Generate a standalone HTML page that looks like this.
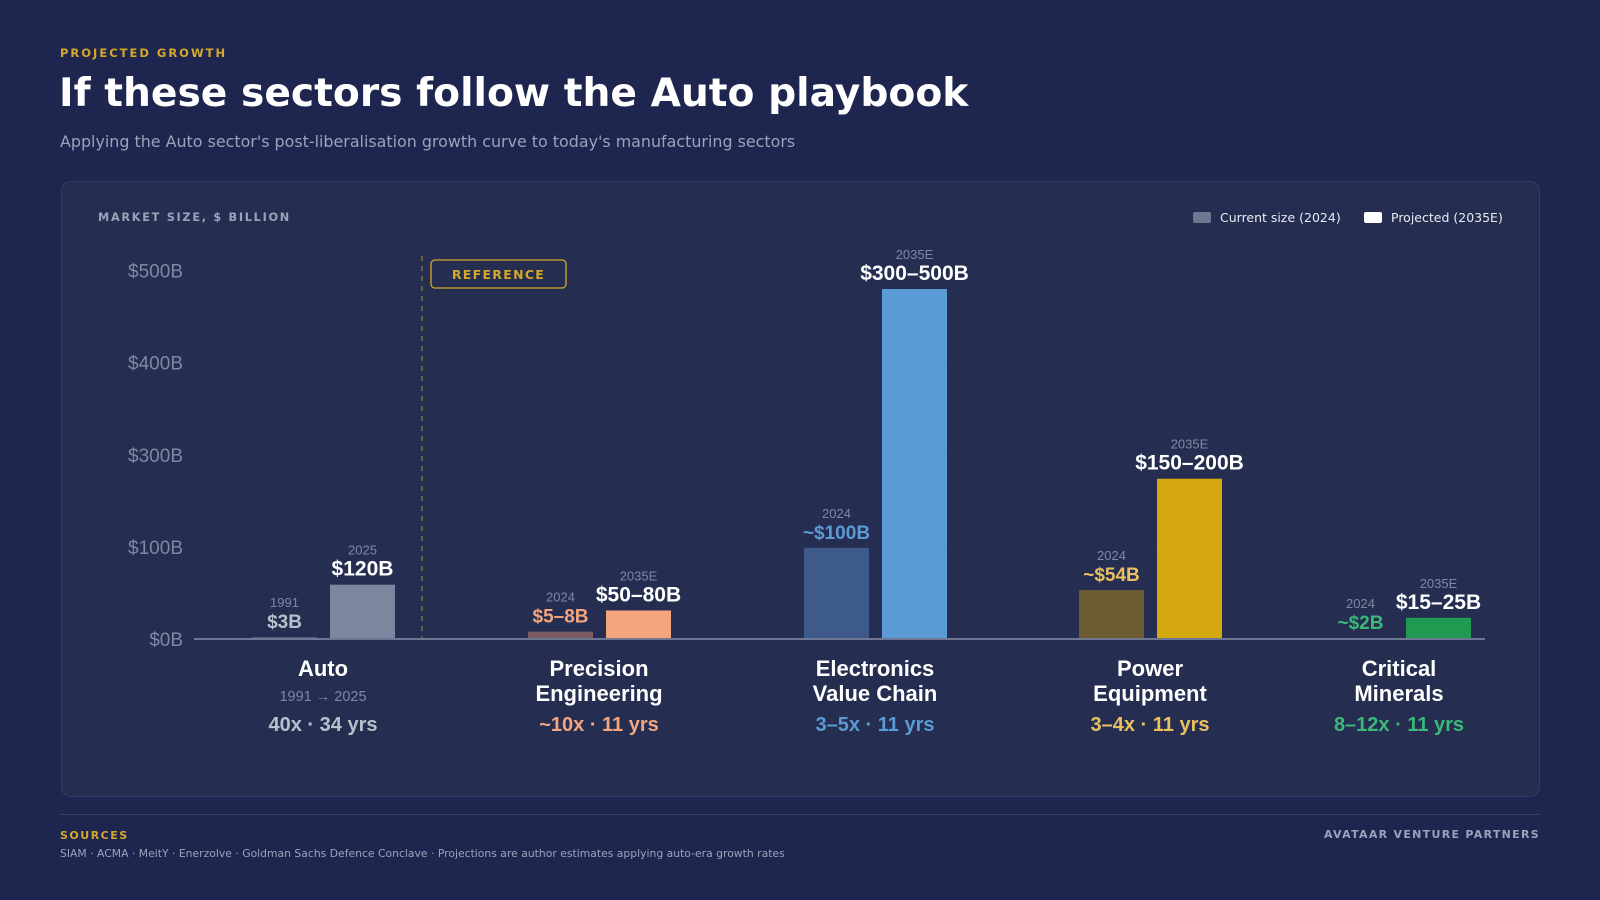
<!DOCTYPE html>
<html><head><meta charset="utf-8"><style>
html,body{margin:0;padding:0;}
body{width:1600px;height:900px;background:#1e2650;position:relative;overflow:hidden;font-family:"DejaVu Sans","Liberation Sans",sans-serif;}
.abs{position:absolute;white-space:nowrap;}
</style></head><body>
<div class="abs" style="left:60px;top:46px;font-size:11.5px;font-weight:bold;letter-spacing:2px;color:#d4a82a;">PROJECTED GROWTH</div>
<div class="abs" style="left:59px;top:71px;font-size:39.2px;font-weight:bold;color:#fff;">If these sectors follow the Auto playbook</div>
<div class="abs" style="left:60px;top:132px;font-size:15.9px;color:#9aa3ba;">Applying the Auto sector's post-liberalisation growth curve to today's manufacturing sectors</div>
<div class="abs" style="left:61px;top:181px;width:1477px;height:614px;background:#252e50;border:1px solid #323c60;border-radius:10px;"></div>
<div class="abs" style="left:98px;top:211px;font-size:11.3px;font-weight:bold;letter-spacing:1.7px;color:#9aa3ba;">MARKET SIZE, $ BILLION</div>
<div class="abs" style="left:1193px;top:210px;font-size:12.5px;color:#e8ebf2;"><span style="display:inline-block;width:18px;height:11px;background:#6e7690;border-radius:2px;vertical-align:-1px;margin-right:9px;"></span>Current size (2024)</div>
<div class="abs" style="left:1364px;top:210px;font-size:12.5px;color:#e8ebf2;"><span style="display:inline-block;width:18px;height:11px;background:#fff;border-radius:2px;vertical-align:-1px;margin-right:9px;"></span>Projected (2035E)</div>
<svg id="chart" width="1600" height="900" style="position:absolute;left:0;top:0;" font-family="'Liberation Sans',Arial,sans-serif"></svg>
<div class="abs" style="left:60px;top:814px;width:1480px;height:1px;background:#38426a;"></div>
<div class="abs" style="left:60px;top:829px;font-size:11px;font-weight:bold;letter-spacing:1.5px;color:#d4a82a;">SOURCES</div>
<div class="abs" style="left:60px;top:847px;font-size:10.8px;color:#9aa3ba;">SIAM · ACMA · MeitY · Enerzolve · Goldman Sachs Defence Conclave · Projections are author estimates applying auto-era growth rates</div>
<div class="abs" style="right:60px;top:828px;font-size:11px;font-weight:bold;letter-spacing:1.3px;color:#9aa3ba;">AVATAAR VENTURE PARTNERS</div>
<script>
const categories=[["Auto"],["Precision","Engineering"],["Electronics","Value Chain"],["Power","Equipment"],["Critical","Minerals"]];
const currentValues=[2,8,99,53,1];
const projectedValues=[59,31,380,174,23];
const currentLabels=["$3B","$5–8B","~$100B","~$54B","~$2B"];
const projectedLabels=["$120B","$50–80B","$300–500B","$150–200B","$15–25B"];
const currentYears=["1991","2024","2024","2024","2024"];
const projectedYears=["2025","2035E","2035E","2035E","2035E"];
const multipliers=["40x · 34 yrs","~10x · 11 yrs","3–5x · 11 yrs","3–4x · 11 yrs","8–12x · 11 yrs"];
const tickValues=[0,100,200,300,400];
const tickLabels=["$0B","$100B","$300B","$400B","$500B"];
const svg=document.getElementById('chart');
const NS='http://www.w3.org/2000/svg';
const baseY=639,pxPer=0.921;
function y(v){return baseY-v*pxPer;}
const centers=[323,599,875,1150,1399];
function x(i){return centers[i];}
const curFill=["#59637e","#7a5c60","#3d5a8a","#6e5c32","#1e6b44"];
const projFill=["#7a879e","#f4a57e","#5b9bd5","#d6a80f","#1f9a50"];
const curText=["#b8c0cc","#f4a57e","#5b9bd5","#e8c060","#3cb878"];
const multText=["#b8c0cc","#f4a57e","#5b9bd5","#e8c060","#3cb878"];
function mk(tag,attrs,txt){const e=document.createElementNS(NS,tag);for(const k in attrs)e.setAttribute(k,attrs[k]);if(txt!=null)e.textContent=txt;svg.appendChild(e);return e;}
tickValues.forEach((v,i)=>{
  const g=mk('line',{x1:194,x2:1485,y1:y(v),y2:y(v),stroke:'#283152','stroke-width':1});
  
  
  const t=mk('text',{x:183,y:y(v)+7,'text-anchor':'end','font-size':19,fill:'#7f88a3'},tickLabels[i]);
  
  
});
const dl=mk('line',{x1:422,x2:422,y1:256,y2:baseY,stroke:'#8a7a3a','stroke-width':1.3,'stroke-dasharray':'5,5'});


const rb=mk('rect',{x:431,y:260,width:135,height:28,rx:4,fill:'none',stroke:'#d4a82a','stroke-width':1.3});


const rt=mk('text',{x:498.5,y:279,'text-anchor':'middle','font-size':12.5,'font-weight':'bold','letter-spacing':1.3,fill:'#d4a82a','font-family':"'DejaVu Sans',sans-serif"},'REFERENCE');


const bw=65;
categories.forEach((c,i)=>{
  const cx=x(i);
  const x1=cx-71,x2=cx+7;
  const cy=y(currentValues[i]),py=y(projectedValues[i]);
  const b1=mk('rect',{x:x1,y:cy,width:bw,height:baseY-cy,fill:curFill[i]});
  
  
  const b2=mk('rect',{x:x2,y:py,width:bw,height:baseY-py,fill:projFill[i]});
  
  
  const v1=mk('text',{x:x1+bw/2,y:cy-9,'text-anchor':'middle','font-size':19,'font-weight':'bold',fill:curText[i]},currentLabels[i]);
  
  
  const y1=mk('text',{x:x1+bw/2,y:cy-30,'text-anchor':'middle','font-size':13,fill:'#7f88a3'},currentYears[i]);
  
  
  const v2=mk('text',{x:x2+bw/2,y:py-9,'text-anchor':'middle','font-size':21,'font-weight':'bold',fill:'#ffffff'},projectedLabels[i]);
  
  
  const y2=mk('text',{x:x2+bw/2,y:py-30,'text-anchor':'middle','font-size':13,fill:'#7f88a3'},projectedYears[i]);
  
  
  c.forEach((ln,j)=>{
    const t=mk('text',{x:cx,y:676+j*25,'text-anchor':'middle','font-size':22,'font-weight':'bold',fill:'#ffffff'},ln);
    
    
  });
  if(i===0){
    const s=mk('text',{x:cx,y:701,'text-anchor':'middle','font-size':14.5,fill:'#7f88a3'},'1991 → 2025');
    
    
  }
  const m=mk('text',{x:cx,y:731,'text-anchor':'middle','font-size':20,'font-weight':'bold',fill:multText[i]},multipliers[i]);
  
  
});
const bl=mk('line',{x1:194,x2:1485,y1:baseY,y2:baseY,stroke:'#6e7894','stroke-width':2});


</script>
</body></html>
